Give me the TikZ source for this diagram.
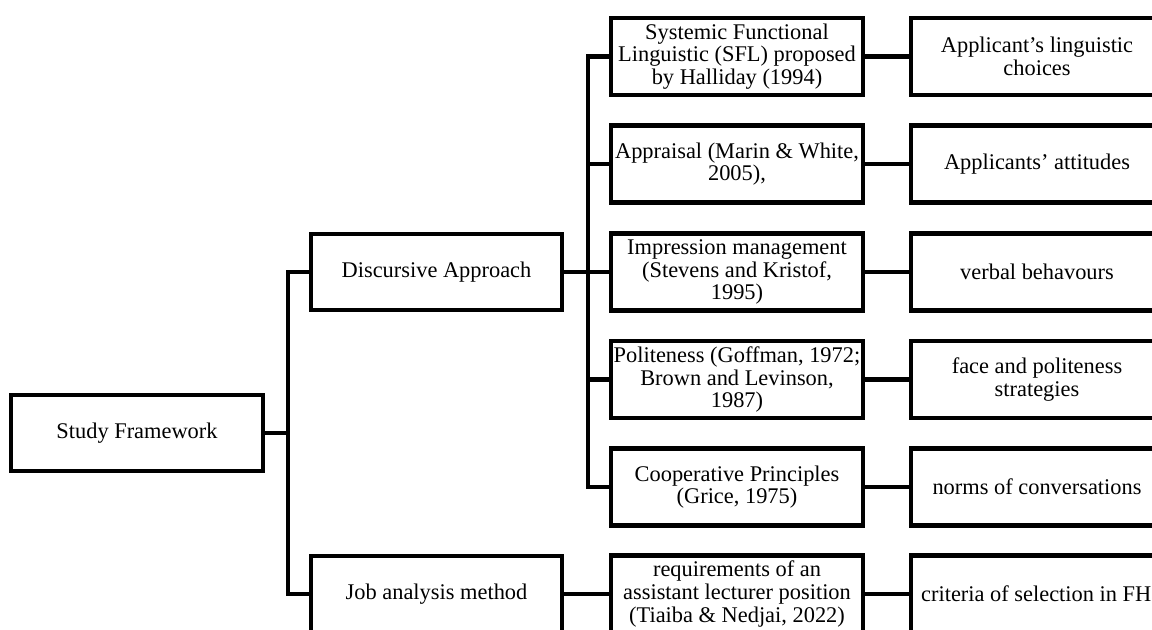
\documentclass[tikz,border=0pt]{standalone}
\usepackage{fontspec}
\setmainfont{Liberation Serif}
\begin{document}
\begin{tikzpicture}[x=0.75pt,y=-0.75pt,
  line width=3.2pt, line join=miter,
  every node/.style={font=\fontsize{16.8}{17}\selectfont},
  lbox/.style={draw, line width=3.2pt, minimum width=188.5pt, minimum height=57pt, inner sep=0pt, align=center},
  mbox/.style={draw, line width=3.2pt, minimum width=189pt, minimum height=57.75pt, inner sep=0pt, align=center},
  rbox/.style={draw, line width=3.2pt, minimum width=189pt, minimum height=57.75pt, inner sep=0pt, align=center},
  txt/.style={inner sep=0pt}
]
\fill[white] (0,0) rectangle (1152,630);
\clip (0,0) rectangle (1152,630);
\useasboundingbox (0,0) rectangle (1152,630);

% first column
\node[lbox] (sf) at (137,433) {Study Framework};
% second column
\node[lbox] (da) at (436.5,272) {Discursive Approach};
\node[lbox] (ja) at (436.5,594) {Job analysis method};
% third column
\node[mbox] (m1) at (737,56.5) {Systemic Functional\\Linguistic (SFL) proposed\\by Halliday (1994)};
\node[mbox] (m2) at (737,164) {Appraisal (Marin \& White,\\2005),};
\node[mbox] (m3) at (737,272) {Impression management\\(Stevens and Kristof,\\1995)};
\node[mbox] (m4) at (737,379.5) {Politeness (Goffman, 1972;\\Brown and Levinson,\\1987)};
\node[mbox] (m5) at (737,487) {Cooperative Principles\\(Grice, 1975)};
\node[mbox] (m6) at (737,594) {requirements of an\\assistant lecturer position\\(Tiaiba \& Nedjai, 2022)};
% fourth column
\node[rbox] (r1) at (1037,56.5) {Applicant's linguistic\\choices};
\node[rbox] (r2) at (1037,164) {Applicants' attitudes};
\node[rbox] (r3) at (1037,272) {verbal behavours};
\node[rbox] (r4) at (1037,379.5) {face and politeness\\strategies};
\node[rbox] (r5) at (1037,487) {norms of conversations};
\node[rbox] (r6) at (1037,594) {};
\node[txt, anchor=west] (t6) at (919,594) {criteria of selection in FHI};

% buses
\coordinate (b1) at (288,0);
\coordinate (b2) at (588,0);

\draw (sf.east) -- (sf.east -| b1);
\draw (da.west) -- (da.west -| b1) -- (ja.west -| b1) -- (ja.west);

\draw (da.east) -- (m3.west);
\draw (m1.west) -- (m1.west -| b2) -- (m5.west -| b2) -- (m5.west);
\draw (m2.west) -- (m2.west -| b2);
\draw (m4.west) -- (m4.west -| b2);

\draw (ja.east) -- (m6.west);

\draw (m1.east) -- (r1.west);
\draw (m2.east) -- (r2.west);
\draw (m3.east) -- (r3.west);
\draw (m4.east) -- (r4.west);
\draw (m5.east) -- (r5.west);
\draw (m6.east) -- (r6.west);
\end{tikzpicture}
\end{document}
